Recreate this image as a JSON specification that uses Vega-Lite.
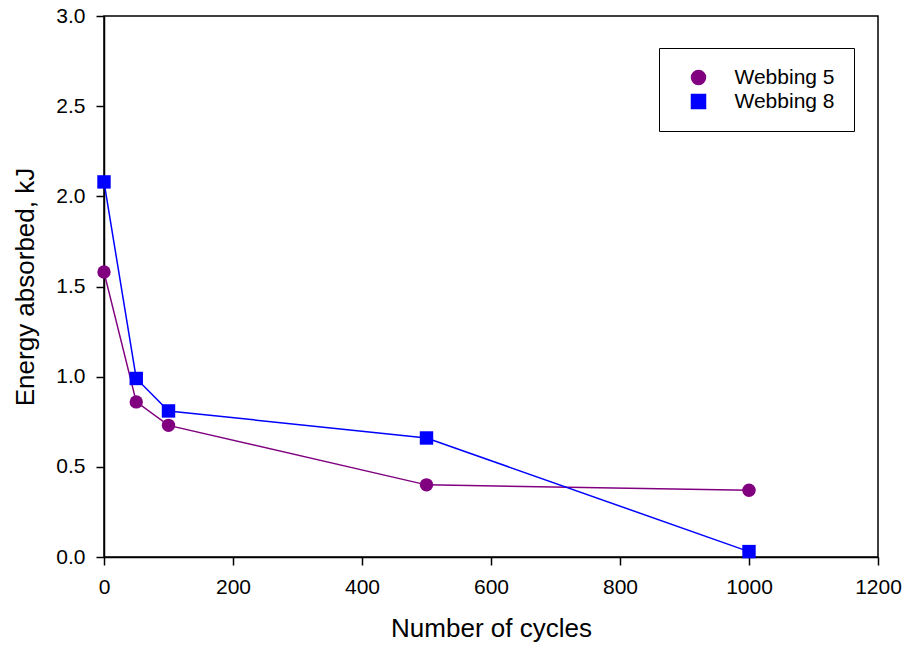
{
  "$schema": "https://vega.github.io/schema/vega-lite/v6.json",
  "width": 774,
  "height": 541,
  "autosize": {"type": "none"},
  "padding": {"left": 104, "top": 16, "right": 29, "bottom": 97},
  "background": "white",
  "config": {
    "font": "Liberation Sans",
    "view": {"stroke": "black", "strokeWidth": 1.5},
    "axis": {
      "grid": false,
      "domainColor": "black",
      "domainWidth": 1.5,
      "tickColor": "black",
      "tickWidth": 1.5,
      "tickSize": 8,
      "labelFont": "Liberation Sans",
      "labelFontSize": 21,
      "labelColor": "black",
      "titleFont": "Liberation Sans",
      "titleFontSize": 26,
      "titleFontWeight": "normal",
      "titleColor": "black"
    }
  },
  "data": {
    "values": [
      {"cycles": 0, "energy": 1.58, "series": "Webbing 5"},
      {"cycles": 50, "energy": 0.86, "series": "Webbing 5"},
      {"cycles": 100, "energy": 0.73, "series": "Webbing 5"},
      {"cycles": 500, "energy": 0.40, "series": "Webbing 5"},
      {"cycles": 1000, "energy": 0.37, "series": "Webbing 5"},
      {"cycles": 0, "energy": 2.08, "series": "Webbing 8"},
      {"cycles": 50, "energy": 0.99, "series": "Webbing 8"},
      {"cycles": 100, "energy": 0.81, "series": "Webbing 8"},
      {"cycles": 500, "energy": 0.66, "series": "Webbing 8"},
      {"cycles": 1000, "energy": 0.03, "series": "Webbing 8"}
    ]
  },
  "encoding": {
    "x": {
      "field": "cycles",
      "type": "quantitative",
      "scale": {"domain": [0, 1200], "nice": false, "zero": false},
      "axis": {
        "title": "Number of cycles",
        "values": [0, 200, 400, 600, 800, 1000, 1200],
        "format": "d",
        "labelPadding": 11,
        "titlePadding": 18,
        "labelFlush": false
      }
    },
    "y": {
      "field": "energy",
      "type": "quantitative",
      "scale": {"domain": [0, 3], "nice": false},
      "axis": {
        "title": "Energy absorbed, kJ",
        "values": [0, 0.5, 1, 1.5, 2, 2.5, 3],
        "format": ".1f",
        "labelPadding": 11,
        "titlePadding": 17,
        "labelFlush": false
      }
    },
    "color": {
      "field": "series",
      "type": "nominal",
      "scale": {"domain": ["Webbing 5", "Webbing 8"], "range": ["#800080", "#0000ff"]},
      "legend": {
        "title": null,
        "orient": "none",
        "legendX": 555,
        "legendY": 32,
        "padding": 19,
        "strokeColor": "black",
        "fillColor": "white",
        "symbolSize": 196,
        "symbolOffset": 10,
        "labelOffset": 25.5,
        "labelFontSize": 21,
        "labelFont": "Liberation Sans",
        "labelColor": "black",
        "rowPadding": 2
      }
    }
  },
  "layer": [
    {
      "mark": {"type": "line", "strokeWidth": 1.5}
    },
    {
      "mark": {"type": "point", "filled": true, "opacity": 1, "size": 180},
      "encoding": {
        "shape": {
          "field": "series",
          "type": "nominal",
          "scale": {"domain": ["Webbing 5", "Webbing 8"], "range": ["circle", "square"]}
        }
      }
    }
  ]
}
